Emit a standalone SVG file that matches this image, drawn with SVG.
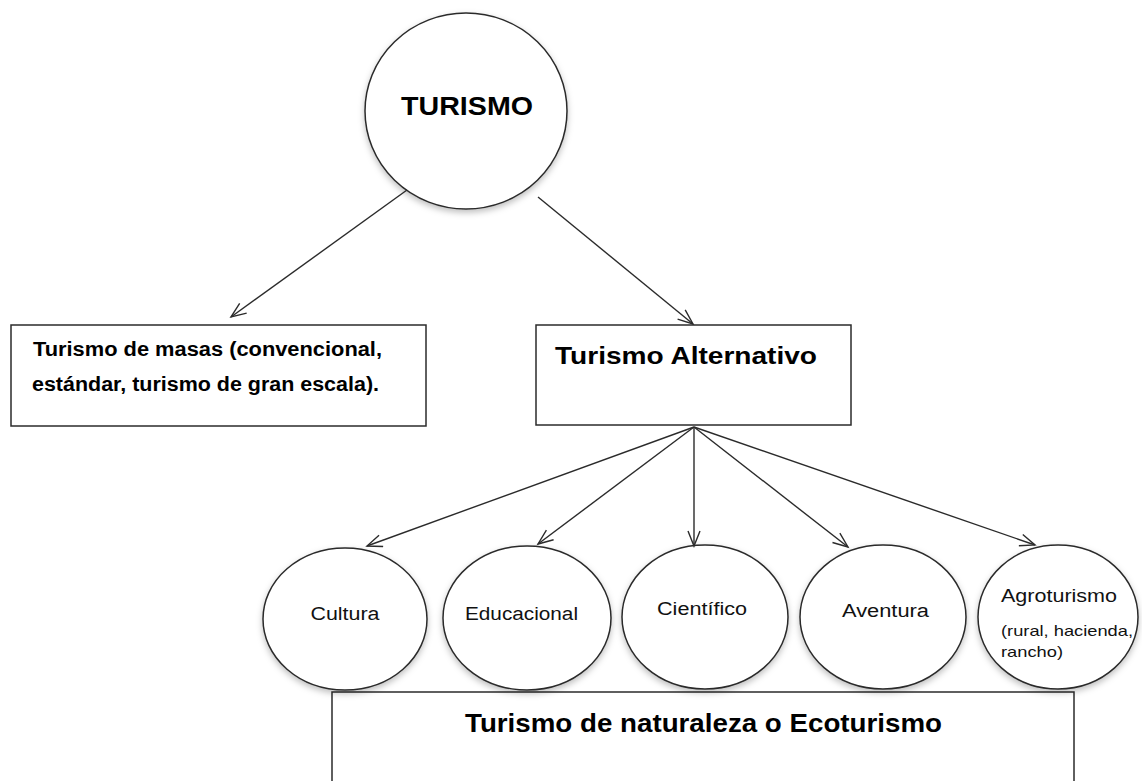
<svg xmlns="http://www.w3.org/2000/svg" width="1142" height="781" viewBox="0 0 1142 781">
<style>
.shape{fill:#fff;stroke:#2b2b2b;stroke-width:1.5}
.ell{filter:url(#sh)}
.conn line{stroke:#2b2b2b;stroke-width:1.4;marker-end:url(#arr)}
.b{font-family:"Liberation Sans",Arial,sans-serif;font-weight:bold;fill:#000}
.r{font-family:"Liberation Sans",Arial,sans-serif;fill:#111}
</style>
<defs>
<marker id="arr" markerUnits="userSpaceOnUse" markerWidth="20" markerHeight="16" refX="16" refY="7" orient="auto">
<path d="M1,1 L16,7 L1,13" fill="none" stroke="#2b2b2b" stroke-width="1.4"/>
</marker>
<filter id="sh" x="-10%" y="-10%" width="120%" height="125%">
<feDropShadow dx="0" dy="3" stdDeviation="3" flood-color="#000" flood-opacity="0.25"/>
</filter>
</defs>
<rect width="1142" height="781" fill="#fff"/>
<g id="node-turismo">
<ellipse class="shape ell" cx="466" cy="111" rx="101" ry="98"/>
<text class="b" x="467" y="115" font-size="26" text-anchor="middle" textLength="132" lengthAdjust="spacingAndGlyphs">TURISMO</text>
</g>
<g id="node-masas">
<rect class="shape" x="11" y="325" width="415" height="101"/>
<text class="b" x="33" y="356" font-size="20" textLength="349" lengthAdjust="spacingAndGlyphs">Turismo de masas (convencional,</text>
<text class="b" x="32" y="391" font-size="20" textLength="347" lengthAdjust="spacingAndGlyphs">estándar, turismo de gran escala).</text>
</g>
<g id="node-alternativo">
<rect class="shape" x="536" y="325" width="315" height="100"/>
<text class="b" x="555" y="364" font-size="24" textLength="262" lengthAdjust="spacingAndGlyphs">Turismo Alternativo</text>
</g>
<g id="node-naturaleza">
<rect class="shape" x="332" y="692" width="742" height="100"/>
<text class="b" x="465" y="732" font-size="25" textLength="477" lengthAdjust="spacingAndGlyphs">Turismo de naturaleza o Ecoturismo</text>
</g>
<g id="node-cultura">
<ellipse class="shape ell" cx="345" cy="619" rx="82" ry="71"/>
<text class="r" x="345" y="620" font-size="18" text-anchor="middle" textLength="69" lengthAdjust="spacingAndGlyphs">Cultura</text>
</g>
<g id="node-educacional">
<ellipse class="shape ell" cx="527" cy="618" rx="84" ry="72"/>
<text class="r" x="465" y="620" font-size="18" textLength="113" lengthAdjust="spacingAndGlyphs">Educacional</text>
</g>
<g id="node-cientifico">
<ellipse class="shape ell" cx="705" cy="617" rx="83" ry="72"/>
<text class="r" x="657" y="615" font-size="18" textLength="90" lengthAdjust="spacingAndGlyphs">Científico</text>
</g>
<g id="node-aventura">
<ellipse class="shape ell" cx="883" cy="617" rx="83" ry="72"/>
<text class="r" x="842" y="617" font-size="18" textLength="87" lengthAdjust="spacingAndGlyphs">Aventura</text>
</g>
<g id="node-agroturismo">
<ellipse class="shape ell" cx="1058" cy="617" rx="80" ry="72"/>
<text class="r" x="1001" y="602" font-size="18" textLength="116" lengthAdjust="spacingAndGlyphs">Agroturismo</text>
<text class="r" x="1001" y="636" font-size="15" textLength="132" lengthAdjust="spacingAndGlyphs">(rural, hacienda,</text>
<text class="r" x="1001" y="657" font-size="15" textLength="62" lengthAdjust="spacingAndGlyphs">rancho)</text>
</g>
<g id="connectors" class="conn">
<line x1="407" y1="190" x2="231" y2="317"/>
<line x1="538" y1="197" x2="693" y2="324"/>
<line x1="694" y1="427" x2="367" y2="546"/>
<line x1="694" y1="427" x2="538" y2="544"/>
<line x1="694" y1="427" x2="694" y2="546"/>
<line x1="694" y1="427" x2="848" y2="547"/>
<line x1="694" y1="427" x2="1035" y2="545"/>
</g>
</svg>
